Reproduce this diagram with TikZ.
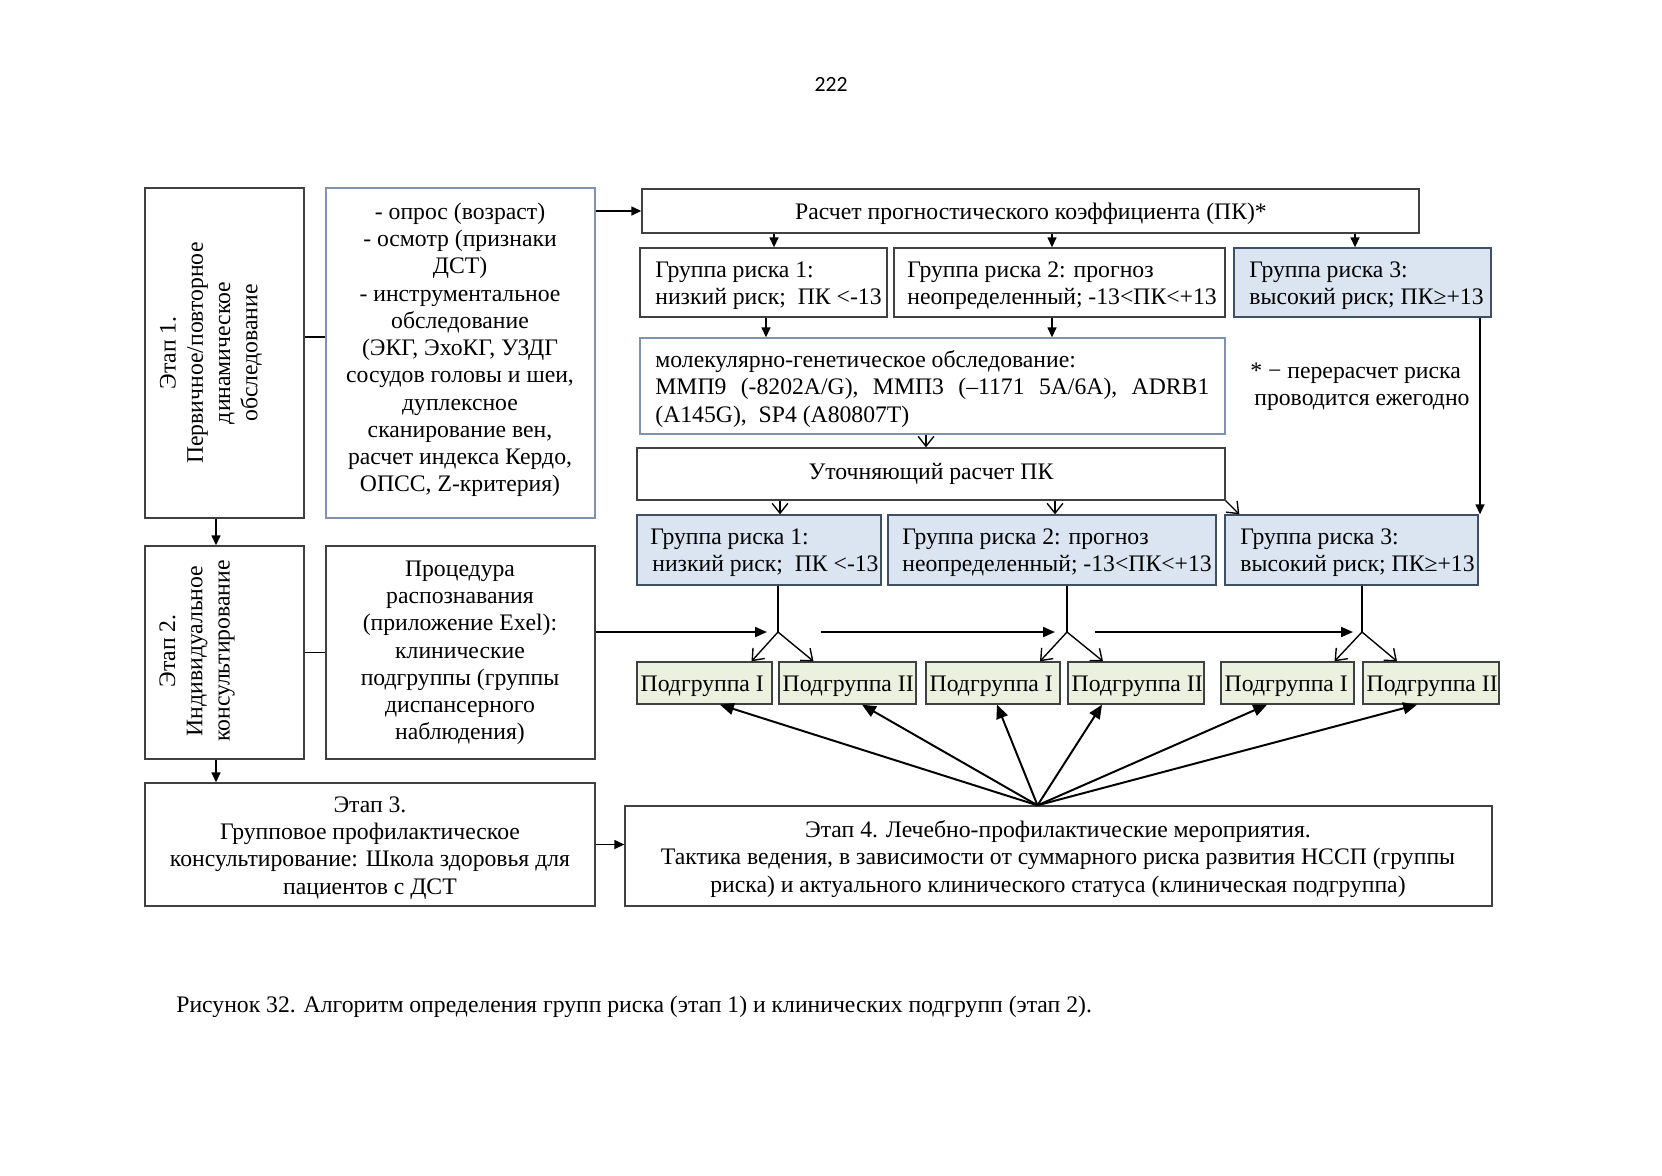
\documentclass[tikz,border=0pt]{standalone}
\usepackage{fontspec}
\setmainfont{Liberation Serif}
\newfontfamily\pagenumfont{Carlito}
\usetikzlibrary{arrows.meta,calc,fit}
\newdimen\pxu \pxu=0.50662pt
\definecolor{blfill}{HTML}{DBE5F1}
\definecolor{grfill}{HTML}{EBF1DE}
\definecolor{bdr}{HTML}{404040}
\definecolor{bluebdr}{HTML}{7F93B0}
\definecolor{bluedark}{HTML}{3F4F66}
\begin{document}
\begin{tikzpicture}[x=\pxu,y=-\pxu,
  box/.style={draw=bdr,line width=0.7pt,inner sep=0pt},
  bbox/.style={draw=bluebdr,line width=0.7pt,inner sep=0pt},
  bfill/.style={draw=bluedark,fill=blfill,line width=0.7pt,inner sep=0pt},
  gbox/.style={draw=bdr,fill=grfill,line width=0.7pt,inner sep=0pt},
  vtxt/.style={font=\fontsize{12}{13.8}\selectfont,inner sep=0pt,rotate=90,align=center},
  txt/.style={font=\fontsize{12}{13.8}\selectfont,inner sep=0pt,yshift=-1.5pt},
  ln/.style={line width=0.7pt},
  arr/.style={ln,-{Triangle[length=5pt,width=4.5pt]}},
  barb/.style={ln,-{Straight Barb[length=5pt,width=8pt]}},
  harr/.style={line width=1pt,-{Triangle[length=6pt,width=5pt]}},
  fan/.style={line width=1pt,-{Triangle[length=7pt,width=6pt]}}]

\fill[white] (0,0) rectangle (1662,1175);
\useasboundingbox (0,0) rectangle (1662,1175);

\node[txt,font=\pagenumfont\fontsize{11}{13}\selectfont] (pnum) at (831,81) {222};

% boxes
\node[box,fit={(145,188)(304,518)}] (e1) {};
\node[bbox,fit={(326,188)(595,518)}] (list) {};
\node[box,fit={(642,189)(1419,233)}] (calc) {};
\node[box,fit={(640,248)(887,317)}] (g11) {};
\node[box,fit={(894,248)(1225,317)}] (g12) {};
\node[bfill,fit={(1234,248)(1491,317)}] (g13) {};
\node[bbox,fit={(640,338)(1225,434)}] (mol) {};
\node[box,fit={(637,448)(1225,500)}] (ref) {};
\node[bfill,fit={(637,515)(881,585)}] (g21) {};
\node[bfill,fit={(888,515)(1216,585)}] (g22) {};
\node[bfill,fit={(1225,515)(1478,585)}] (g23) {};
\node[gbox,fit={(637,662)(772,704)}] (s1) {};
\node[gbox,fit={(779,662)(916,704)}] (s2) {};
\node[gbox,fit={(926,662)(1060,704)}] (s3) {};
\node[gbox,fit={(1068,662)(1204,704)}] (s4) {};
\node[gbox,fit={(1221,662)(1354,704)}] (s5) {};
\node[gbox,fit={(1363,662)(1499,704)}] (s6) {};
\node[box,fit={(145,546)(304,759)}] (e2) {};
\node[box,fit={(326,546)(595,759)}] (proc) {};
\node[box,fit={(145,783)(595,906)}] (e3) {};
\node[box,fit={(625,806)(1492,906)}] (e4) {};

% texts
\node[vtxt] (e1t) at (211,353) {Этап 1.\\Первичное/повторное\\динамическое\\обследование};
\node[txt,align=center] (listt) at (460,347) {- опрос (возраст)\\- осмотр (признаки\\ДСТ)\\- инструментальное\\обследование\\(ЭКГ, ЭхоКГ, УЗДГ\\сосудов головы и шеи,\\дуплексное\\сканирование вен,\\расчет индекса Кердо,\\ОПСС, Z-критерия)};
\node[txt] (calct) at (1031,211) {Расчет прогностического коэффициента (ПК)*};
\node[txt,align=left,anchor=west] (g11t) at (655,282.5) {Группа риска 1:\\низкий риск;~ ПК <-13};
\node[txt,align=left,anchor=west] (g12t) at (907,282.5) {Группа риска 2: прогноз\\неопределенный; -13<ПК<+13};
\node[txt,align=left,anchor=west] (g13t) at (1249,282.5) {Группа риска 3:\\высокий риск; ПК≥+13};
\node[txt,align=left,anchor=west] (molt) at (655,386) {молекулярно-генетическое обследование:\\\makebox[554\pxu][s]{ММП9 (-8202A/G), ММП3 (–1171 5A/6A), ADRB1}\\(A145G),~ SP4 (A80807T)};
\node[txt,align=left,anchor=west] (note) at (1250,384) {* − перерасчет риска\\\hspace{2pt}проводится ежегодно};
\node[txt] (reft) at (931,471) {Уточняющий расчет ПК};
\node[txt,align=left,anchor=west] (g21t) at (650,550) {Группа риска 1:\\\hspace{1pt}низкий риск;~ ПК <-13};
\node[txt,align=left,anchor=west] (g22t) at (902,550) {Группа риска 2: прогноз\\неопределенный; -13<ПК<+13};
\node[txt,align=left,anchor=west] (g23t) at (1240,550) {Группа риска 3:\\высокий риск; ПК≥+13};
\node[txt,anchor=west] (s1t) at ($(s1.west)+(4,0)$) {Подгруппа I};
\node[txt,anchor=west] (s2t) at ($(s2.west)+(4,0)$) {Подгруппа II};
\node[txt,anchor=west] (s3t) at ($(s3.west)+(4,0)$) {Подгруппа I};
\node[txt,anchor=west] (s4t) at ($(s4.west)+(4,0)$) {Подгруппа II};
\node[txt,anchor=west] (s5t) at ($(s5.west)+(4,0)$) {Подгруппа I};
\node[txt,anchor=west] (s6t) at ($(s6.west)+(4,0)$) {Подгруппа II};
\node[vtxt] (e2t) at (197,651) {Этап 2.\\Индивидуальное\\консультирование};
\node[txt,align=center] (proct) at (460,650) {Процедура\\распознавания\\(приложение Exel):\\клинические\\подгруппы (группы\\диспансерного\\наблюдения)};
\node[txt,align=center] (e3t) at (370,845) {Этап 3.\\Групповое профилактическое\\консультирование: Школа здоровья для\\пациентов с ДСТ};
\node[txt,align=center] (e4t) at (1058,856) {Этап 4. Лечебно-профилактические мероприятия.\\Тактика ведения, в зависимости от суммарного риска развития НССП (группы\\риска) и актуального клинического статуса (клиническая подгруппа)};
\node[txt,anchor=west] (cap) at (176,1004) {Рисунок 32. Алгоритм определения групп риска (этап 1) и клинических подгрупп (этап 2).};

% left column connectors
\draw[ln] ($(e1.east)+(0,-16)$) -- ($(list.west)+(0,-16)$);
\draw[arr] (list.east |- calc.west) -- (calc.west);
\draw[arr] (e1.south -| 216,0) -- (e2.north -| 216,0);
\draw[ln] (e2.east) -- (proc.west);
\draw[arr] (e2.south -| 216,0) -- (e3.north -| 216,0);
\draw[arr] (e3.east) -- (e3.east -| e4.west);

% risk calculation flow
\draw[arr] (calc.south -| 774,0) -- (g11.north -| 774,0);
\draw[arr] (calc.south -| 1052,0) -- (g12.north -| 1052,0);
\draw[arr] (calc.south -| 1355,0) -- (g13.north -| 1355,0);
\draw[arr] (g11.south -| 766,0) -- (mol.north -| 766,0);
\draw[arr] (g12.south -| 1052,0) -- (mol.north -| 1052,0);
\draw[barb] (mol.south -| 926,0) -- (ref.north -| 926,0);
\draw[barb] (ref.south -| 780,0) -- (g21.north -| 780,0);
\draw[barb] (ref.south -| 1055,0) -- (g22.north -| 1055,0);
\draw[barb] (ref.south east) -- ($(g23.north west)+(15,0)$);
\draw[arr] (g13.south -| 1480,0) -- (g23.north -| 1480,0);

% branches
\coordinate (b1) at (778,632);
\coordinate (b2) at (1067,632);
\coordinate (b3) at (1362,632);
\draw[ln] (g21.south -| b1) -- (b1);
\draw[ln] (g22.south -| b2) -- (b2);
\draw[ln] (g23.south -| b3) -- (b3);
\draw[barb] (b1) -- ($(s1.north)+(47,0)$);
\draw[barb] (b1) -- ($(s2.north)+(-34,0)$);
\draw[barb] (b2) -- ($(s3.north)+(47,0)$);
\draw[barb] (b2) -- ($(s4.north)+(-33,0)$);
\draw[barb] (b3) -- ($(s5.north)+(47,0)$);
\draw[barb] (b3) -- ($(s6.north)+(-34,0)$);

% horizontal arrows
\coordinate (h2) at (821,632);
\coordinate (h3) at (1095,632);
\draw[harr] (proc.east |- b1) -- ($(b1)+(-11,0)$);
\draw[harr] (h2) -- ($(b2)+(-12,0)$);
\draw[harr] (h3) -- ($(b3)+(-9,0)$);

% fan from stage 4
\coordinate (apex) at ($(e4.north)+(-21,0)$);
\draw[fan] (apex) -- ($(s1.south)+(15.5,0)$);
\draw[fan] (apex) -- ($(s2.south)+(14.5,0)$);
\draw[fan] (apex) -- ($(s3.south)+(4,0)$);
\draw[fan] (apex) -- ($(s4.south)+(-34,0)$);
\draw[fan] (apex) -- ($(s5.south)+(-20.5,0)$);
\draw[fan] (apex) -- ($(s6.south)+(-14,0)$);
\end{tikzpicture}
\end{document}
